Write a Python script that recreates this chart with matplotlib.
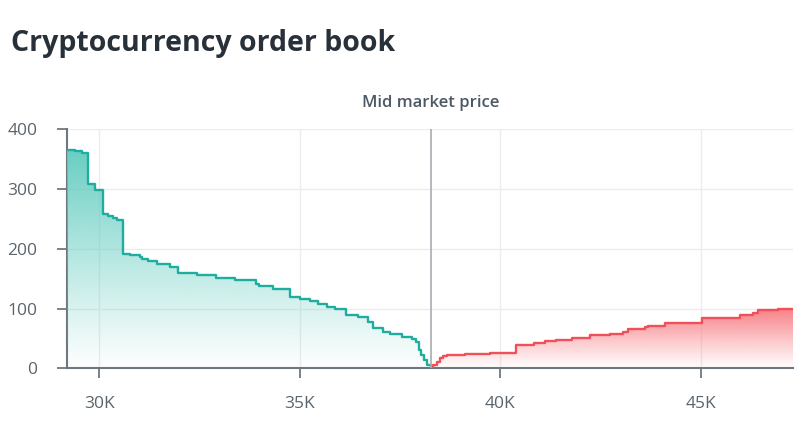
import numpy as np
import matplotlib
matplotlib.use("Agg")
import matplotlib.pyplot as plt
from matplotlib.patches import PathPatch
from matplotlib.colors import to_rgb

plt.rcParams['font.family'] = ['Open Sans', 'DejaVu Sans']

# bids (cumulative), steps-post
bid_price = [29187, 29394, 29569, 29726, 29893, 30100, 30217, 30342, 30441, 30584,
             30766, 31015, 31065, 31215, 31439, 31763, 31963, 32437, 32910, 33384,
             33908, 33983, 34332, 34756, 35005, 35255, 35454, 35679, 35878, 36150,
             36452, 36701, 36826, 37075, 37250, 37549, 37799, 37898, 37973, 38035,
             38098, 38173, 38265]
bid_vol = [366, 364, 360, 308, 299, 258, 255, 251, 248, 192,
           190, 187, 183, 180, 175, 169, 160, 156, 151, 148,
           141, 137, 133, 120, 116, 112, 108, 103, 99, 90,
           86, 78, 67, 60, 57, 53, 49, 44, 31, 22,
           14, 6, 0]

# asks
ask_price = [38265, 38322, 38414, 38497, 38572, 38671, 39120, 39744, 40385, 40841,
             41115, 41390, 41789, 42238, 42736, 43060, 43185, 43609, 43684, 44108,
             45031, 45978, 46303, 46427, 46926, 47308]
ask_vol = [0, 5, 11, 17, 21, 23, 24, 26, 39.5, 43,
           45, 48, 50, 55, 57, 60, 65, 69, 71, 76,
           85, 89, 92, 98, 100, 100]

mid_price = 38265
x_ticks = [30000, 35000, 40000, 45000]
x_labels = ['30K', '35K', '40K', '45K']
y_ticks = [0, 100, 200, 300, 400]

fig = plt.figure(figsize=(8, 4.45), dpi=100)
ax = fig.add_axes([0.0834, 0.1724, 0.9082, 0.537])
xmin, xmax = 29187, 47308


def gradient_fill(x, y, line_col, top_col):
    ax.plot(x, y, drawstyle='steps-post', color=line_col, lw=1.7, zorder=4)
    poly = ax.fill_between(x, y, 0, step='post', color='none', lw=0)
    path = poly.get_paths()[0]
    patch = PathPatch(path, transform=ax.transData, facecolor='none', edgecolor='none')
    ax.add_patch(patch)
    rgb = to_rgb(top_col)
    n = 256
    img = np.zeros((n, 1, 4))
    img[:, 0, :3] = rgb
    img[:, 0, 3] = np.linspace(0.02, 0.95, n) ** 1.1
    im = ax.imshow(img, extent=[xmin, xmax, 0, max(y)], origin='lower',
                   aspect='auto', zorder=3, interpolation='bilinear')
    im.set_clip_path(patch)


gradient_fill(bid_price, bid_vol, '#1fada0', '#5fcbbf')
gradient_fill(ask_price, ask_vol, '#ef5059', '#f8787e')
ax.set_xlim(xmin, xmax)
ax.set_ylim(0, 400)

ax.axvline(mid_price, color='#a8adb2', lw=1.2, zorder=5)
ax.text(mid_price, 1.11, 'Mid market price', transform=ax.get_xaxis_transform(),
        ha='center', va='center', fontsize=12, fontweight='semibold', color='#4d5863')

ax.set_xticks(x_ticks)
ax.set_xticklabels(x_labels)
ax.set_yticks(y_ticks)
ax.grid(True, color='#ececec', lw=1, zorder=0)
ax.set_axisbelow(True)
for s in ['top', 'right']:
    ax.spines[s].set_visible(False)
for s in ['left', 'bottom']:
    ax.spines[s].set_color('#6f777e')
    ax.spines[s].set_linewidth(1.5)
ax.tick_params(axis='both', colors='#6f777e', length=7, width=1.3, labelsize=12.5,
               labelcolor='#5a646c')
ax.tick_params(axis='x', pad=13)
ax.tick_params(axis='y', pad=14)

fig.text(0.014, 0.903, 'Cryptocurrency order book', fontsize=20.5, fontweight='bold',
         color='#283039', ha='left', va='center')

fig.savefig('out.png', dpi=100, facecolor='white')
